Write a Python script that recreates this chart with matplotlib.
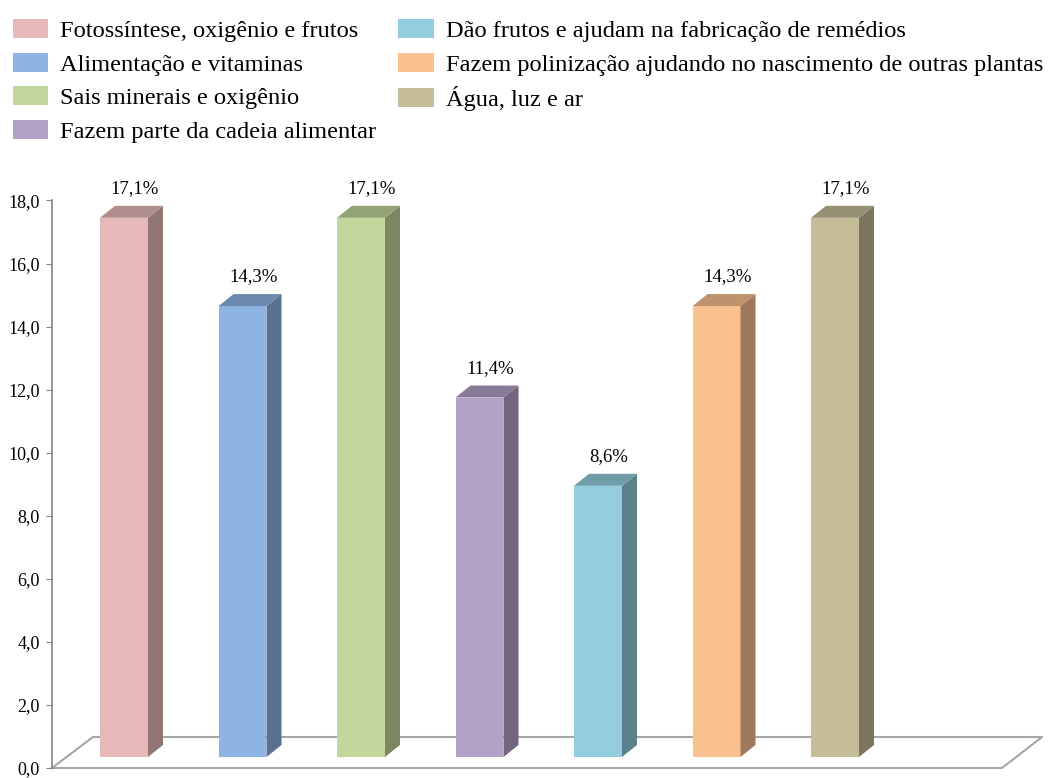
import matplotlib.pyplot as plt
from matplotlib.patches import Polygon, Patch
import numpy as np

categorias = ["Fotossíntese, oxigênio e frutos",
              "Alimentação e vitaminas",
              "Sais minerais e oxigênio",
              "Fazem parte da cadeia alimentar",
              "Dão frutos e ajudam na fabricação de remédios",
              "Fazem polinização ajudando no nascimento de outras plantas",
              "Água, luz e ar"]
valores = [17.1, 14.3, 17.1, 11.4, 8.6, 14.3, 17.1]
rotulos = ["17,1%", "14,3%", "17,1%", "11,4%", "8,6%", "14,3%", "17,1%"]
cores = ["#E6B9B8", "#8EB4E3", "#C3D69B", "#B3A2C7", "#93CDDD", "#FAC090", "#C4BD97"]
yticks = [0, 2, 4, 6, 8, 10, 12, 14, 16, 18]

def escurecer(cor, f):
    c = np.array([int(cor[i:i + 2], 16) for i in (1, 3, 5)]) / 255.0
    return tuple(c * f)

plt.rcParams['font.family'] = ['Liberation Serif', 'DejaVu Serif']

W, H = 1063, 778
fig = plt.figure(figsize=(W / 100, H / 100), dpi=100)
# eixo: esquerda em x=52px, zero em y=768px, ~31.5px por unidade
ax = fig.add_axes([52 / W, 10 / H, (W - 52) / W, 618 / H])
ax.set_ylim(0, 19.6)
ax.set_xlim(-0.6076, 7.924)

meia = 0.2025     # meia largura da face frontal
dx, dy = 0.1266, 0.38   # profundidade da barra
b0 = 0.35         # base das barras

# piso
cinza = "#A6A6A6"
piso_fx = [-0.6076, 7.409]
piso_tx = [-0.262, 7.747]
piso_ty = 0.983
ax.plot([piso_fx[0], piso_fx[1], piso_tx[1], piso_tx[0], piso_fx[0]],
        [0, 0, piso_ty, piso_ty, 0], color=cinza, lw=1.5, zorder=1,
        clip_on=False)

for i, (v, cor, rot) in enumerate(zip(valores, cores, rotulos)):
    x0, x1 = i - meia, i + meia
    y0, y1 = b0, b0 + v
    frente = Polygon([(x0, y0), (x1, y0), (x1, y1), (x0, y1)],
                     closed=True, facecolor=cor, edgecolor="none", zorder=3)
    lado = Polygon([(x1, y0), (x1 + dx, y0 + dy), (x1 + dx, y1 + dy), (x1, y1)],
                   closed=True, facecolor=escurecer(cor, 0.63), edgecolor="none", zorder=3)
    topo = Polygon([(x0, y1), (x1, y1), (x1 + dx, y1 + dy), (x0 + dx, y1 + dy)],
                   closed=True, facecolor=escurecer(cor, 0.76), edgecolor="none", zorder=3)
    for p in (frente, lado, topo):
        ax.add_patch(p)
    ax.text(i + 0.09, v + 1.14, rot, ha="center", va="baseline", fontsize=13.5,
            color="black", zorder=4)

for s in ("top", "right", "bottom"):
    ax.spines[s].set_visible(False)
ax.spines["left"].set_bounds(0, 18)
ax.spines["left"].set_color("#868686")
ax.spines["left"].set_linewidth(1.2)
ax.set_yticks(yticks)
ax.set_yticklabels([f"{t:.1f}".replace(".", ",") for t in yticks])
ax.tick_params(axis="y", direction="out", length=4, color="#868686",
               labelsize=13, pad=5)
ax.set_xticks([])

handles = [Patch(facecolor=c, edgecolor="none") for c in cores]
fig.legend(handles, categorias, loc="upper left", bbox_to_anchor=(0.012, 0.975),
           ncol=2, frameon=False, fontsize=17.6, handlelength=1.45,
           handleheight=0.82, handletextpad=0.5, labelspacing=0.43,
           columnspacing=0.9, borderaxespad=0, borderpad=0)

fig.savefig("out.png", dpi=100)
